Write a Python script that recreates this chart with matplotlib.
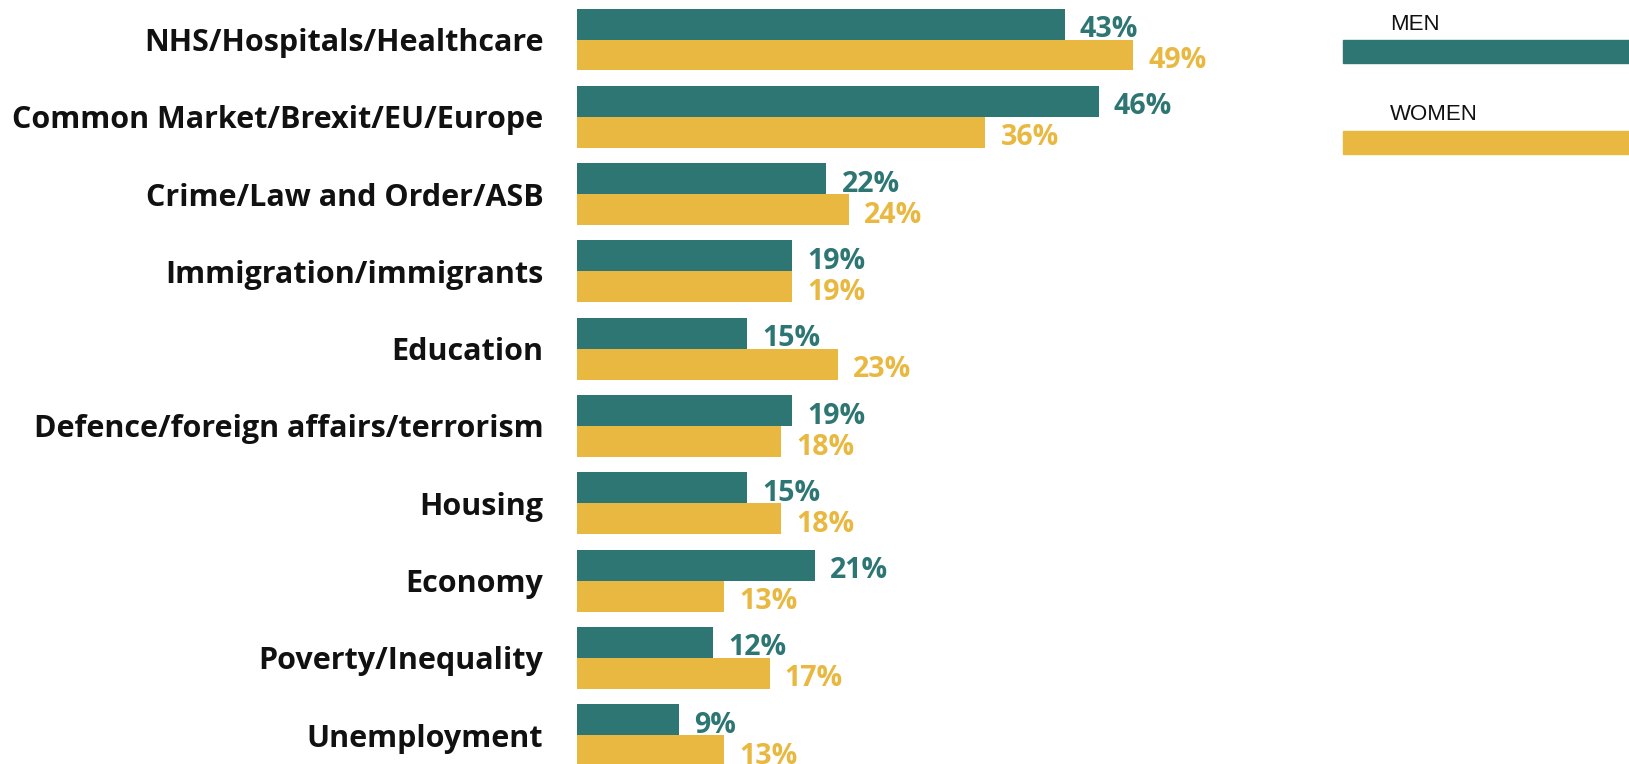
import matplotlib.pyplot as plt
from matplotlib.patches import Rectangle

# Issues named as most important, by gender (%)
categories = [
    "NHS/Hospitals/Healthcare",
    "Common Market/Brexit/EU/Europe",
    "Crime/Law and Order/ASB",
    "Immigration/immigrants",
    "Education",
    "Defence/foreign affairs/terrorism",
    "Housing",
    "Economy",
    "Poverty/Inequality",
    "Unemployment",
]
men = [43, 46, 22, 19, 15, 19, 15, 21, 12, 9]
women = [49, 36, 24, 19, 23, 18, 18, 13, 17, 13]

teal = "#2d7673"
gold = "#e9b841"
W, H = 1629, 764

fig = plt.figure(figsize=(W / 100, H / 100), dpi=100)
ax = fig.add_axes([576.6 / W, 0, 681 / W, 1])

pos = list(range(len(categories)))
h = 0.40
men_y = [p - h / 2 for p in pos]
women_y = [p + h / 2 for p in pos]
ax.barh(men_y, men, height=h, color=teal)
ax.barh(women_y, women, height=h, color=gold)

for y, v in zip(men_y, men):
    ax.annotate(f"{v}%", (v, y), xytext=(11, -4), textcoords="offset points",
                va="center", ha="left", color=teal, fontsize=20.5,
                fontweight="bold", family="Open Sans")
for y, v in zip(women_y, women):
    ax.annotate(f"{v}%", (v, y), xytext=(11, -4), textcoords="offset points",
                va="center", ha="left", color=gold, fontsize=20.5,
                fontweight="bold", family="Open Sans")

ax.set_xlim(0, 60)
ax.set_ylim((764 - 39.5) / 77.3, -39.5 / 77.3)
ax.set_yticks(pos)
ax.set_yticklabels(categories, fontsize=22, fontweight="bold",
                   family="Open Sans", color="#111111")
ax.tick_params(axis="y", length=0, pad=24)
ax.set_xticks([])
for s in ax.spines.values():
    s.set_visible(False)

# legend: label above a long colour strip running to the right edge
for label, color, ty, y0, y1 in [("MEN", teal, 24, 39.5, 63.4),
                                  ("WOMEN", gold, 115, 131, 154)]:
    fig.text(1390 / W, 1 - ty / H, label, fontsize=16, family="Liberation Sans",
             va="center", ha="left", color="#111111")
    fig.add_artist(Rectangle((1343 / W, 1 - y1 / H), (W - 1343) / W, (y1 - y0) / H,
                             transform=fig.transFigure, color=color))

fig.savefig("out.png", dpi=100, facecolor="white")
